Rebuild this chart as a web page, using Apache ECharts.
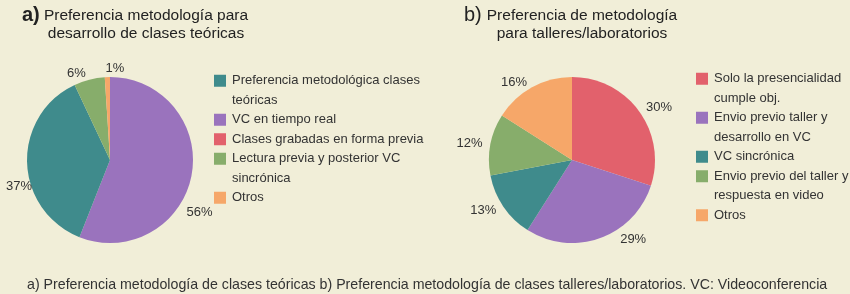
<!DOCTYPE html>
<html>
<head>
<meta charset="utf-8">
<script src="https://cdn.jsdelivr.net/npm/echarts@6/dist/echarts.min.js"></script>
<style>
  html, body { margin: 0; padding: 0; background: #f1eed8; }
  #chart { width: 850px; height: 294px; }
</style>
</head>
<body>
<div id="chart"></div>
<script>
// pie a: slice order is clockwise from 12 o'clock
const namesA = ['VC en tiempo real', 'Preferencia metodológica clases\nteóricas', 'Clases grabadas en forma previa', 'Lectura previa y posterior VC\nsincrónica', 'Otros'];
const valuesA = [56, 37, 0, 6, 1];
const colorsA = ['#9a73bd', '#3f8b8c', '#e2616c', '#87ad6b', '#f6a769'];
// legend order for pie a
const legendA = ['Preferencia metodológica clases\nteóricas', 'VC en tiempo real', 'Clases grabadas en forma previa', 'Lectura previa y posterior VC\nsincrónica', 'Otros'];

const namesB = ['Solo la presencialidad\ncumple obj.', 'Envio previo taller y\ndesarrollo en VC', 'VC sincrónica', 'Envio previo del taller y\nrespuesta en video', 'Otros '];
const valuesB = [30, 29, 13, 12, 16];
const colorsB = ['#e2616c', '#9a73bd', '#3f8b8c', '#87ad6b', '#f6a769'];

// the source figure had a few percentage labels dragged off their mid-angle
const labelNudgeA = { 0: [-13, 36], 1: [13, 24], 4: [19, -3] };
const labelNudgeB = { 1: [16, -4] };

const textColor = '#333';
const font = 'Liberation Sans, Arial, sans-serif';

const chart = echarts.init(document.getElementById('chart'));

// each legend row gets its own legend so the swatch sits on the first text line
function legendRows(names, left, top) {
  const rows = [];
  let y = top;
  names.forEach(n => {
    const lines = n.split('\n').length;
    rows.push({
      data: [n],
      orient: 'vertical',
      left: left,
      // a two-line entry gets a blank line on top, so its box starts one line higher
      top: lines > 1 ? y - 19.5 : y,
      padding: 0,
      icon: 'rect',
      itemWidth: 12,
      itemHeight: 12,
      itemGap: 0,
      selectedMode: false,
      formatter: name => lines > 1 ? '\n' + name : name,
      textStyle: { color: textColor, fontSize: 13, fontFamily: font, lineHeight: 19.5, padding: [0, 0, 0, 1] }
    });
    y += 19.5 * lines;
  });
  return rows;
}

function pieSeries(names, values, colors, cx, nudge) {
  return {
    type: 'pie',
    center: [cx, 160],
    radius: 83,
    startAngle: 90,
    clockwise: true,
    avoidLabelOverlap: false,
    minShowLabelAngle: 0.1,
    data: names.map((n, i) => ({ name: n, value: values[i], itemStyle: { color: colors[i] } })),
    itemStyle: { borderWidth: 0 },
    label: {
      show: true,
      position: 'outside',
      formatter: p => p.value > 0 ? p.value + '%' : '',
      color: textColor,
      fontSize: 13,
      fontFamily: font,
      distanceToLabelLine: 2
    },
    labelLine: { show: false, length: 6, length2: 0 },
    labelLayout: p => {
      const d = nudge[p.dataIndex];
      return d ? { dx: d[0], dy: d[1] } : {};
    },
    emphasis: { disabled: true }
  };
}

const option = {
  backgroundColor: '#f1eed8',
  animation: false,
  title: [
    { text: 'a)', left: 17, top: 0, textStyle: { fontSize: 20, fontWeight: 'bold', color: '#222', fontFamily: font } },
    { text: 'Preferencia metodología para\ndesarrollo de clases teóricas', left: 141, top: 2, textAlign: 'center',
      textStyle: { fontSize: 15.5, fontWeight: 'normal', color: '#222', fontFamily: font, lineHeight: 18 } },
    { text: 'b)', left: 459, top: 0, textStyle: { fontSize: 20, fontWeight: 'normal', color: '#222', fontFamily: font } },
    { text: 'Preferencia de metodología\npara talleres/laboratorios', left: 577, top: 2, textAlign: 'center',
      textStyle: { fontSize: 15.5, fontWeight: 'normal', color: '#222', fontFamily: font, lineHeight: 18 } },
    { text: 'a) Preferencia metodología de clases teóricas b) Preferencia metodología de clases talleres/laboratorios. VC: Videoconferencia',
      left: 22, top: 273, textStyle: { fontSize: 14.2, fontWeight: 'normal', color: '#333', fontFamily: font } }
  ],
  legend: legendRows(legendA, 214, 71).concat(legendRows(namesB, 696, 69)),
  series: [
    pieSeries(namesA, valuesA, colorsA, 110, labelNudgeA),
    pieSeries(namesB, valuesB, colorsB, 572, labelNudgeB)
  ]
};

chart.setOption(option);
</script>
</body>
</html>
